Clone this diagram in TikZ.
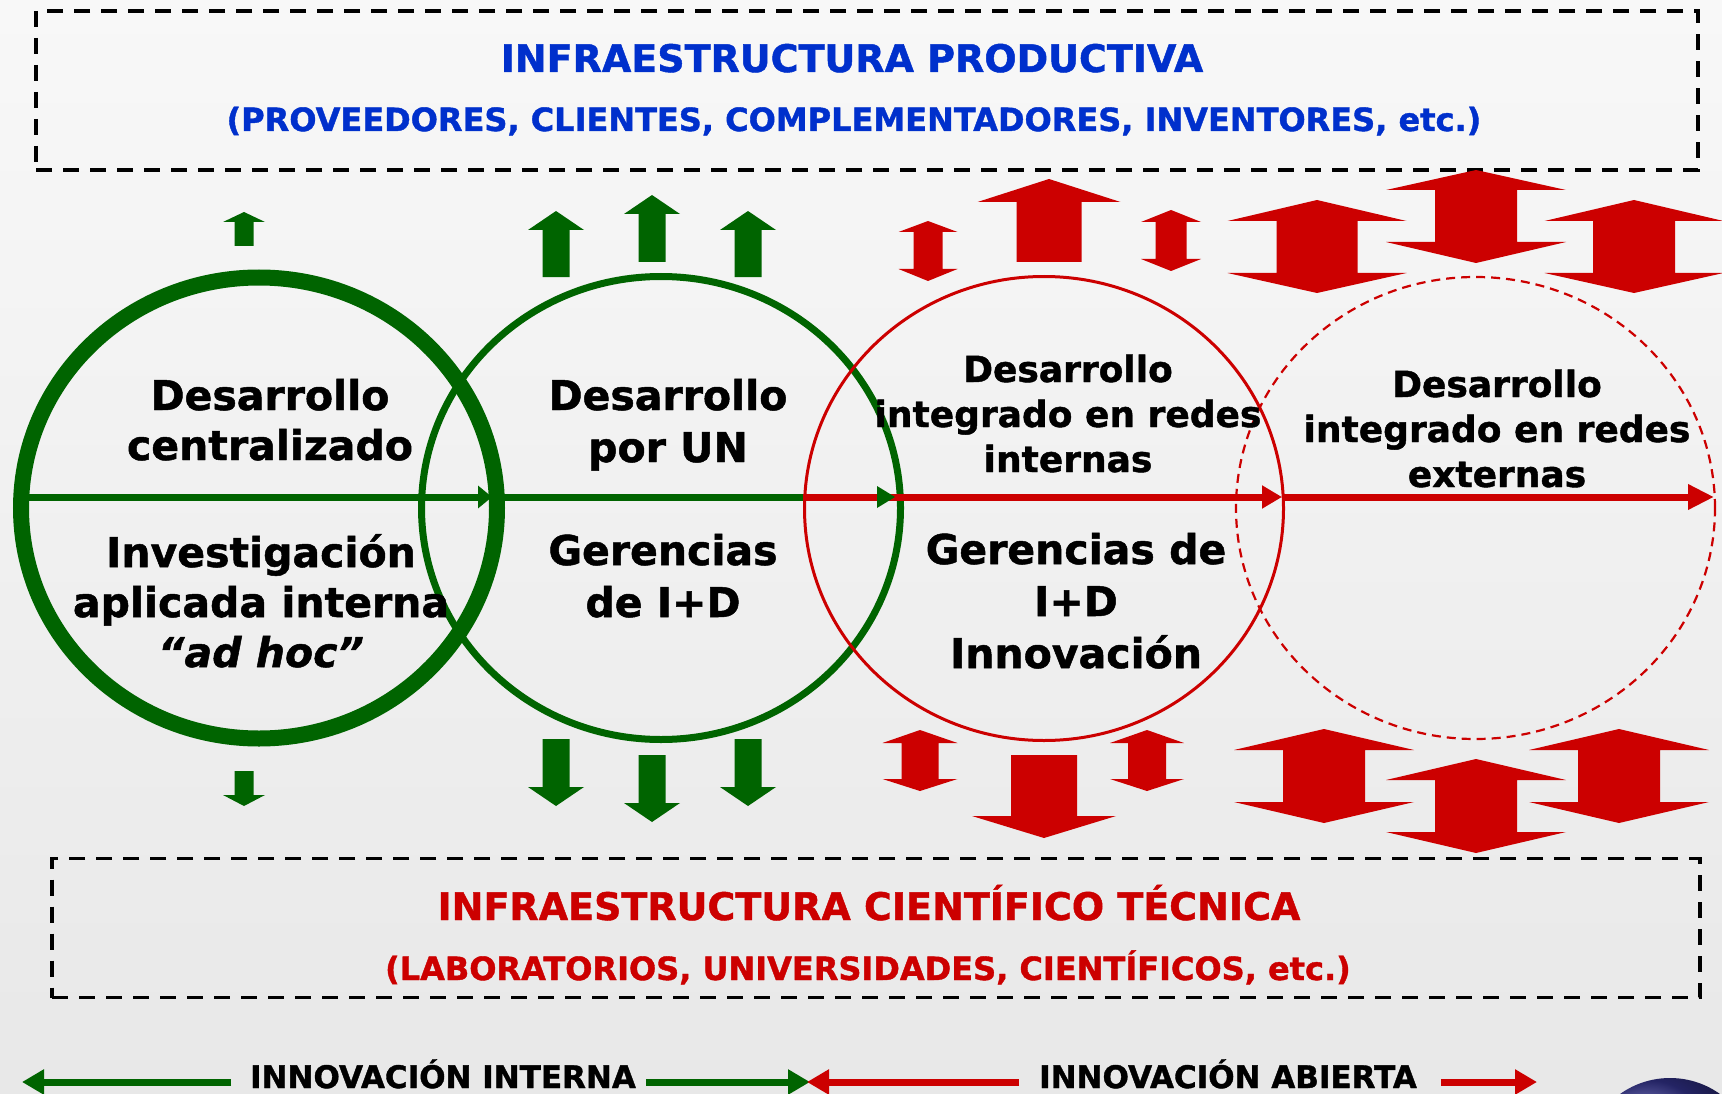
\documentclass[tikz,border=0pt]{standalone}
\usepackage{fontspec}
\setmainfont{DejaVu Sans}[BoldFont={DejaVu Sans Bold},ItalicFont={DejaVu Sans Oblique},BoldItalicFont={DejaVu Sans Bold Oblique},BoldFeatures={FakeBold=1.2},BoldItalicFeatures={FakeBold=1.2}]
\usetikzlibrary{arrows.meta,shapes.geometric}
\definecolor{dgreen}{RGB}{0,100,0}
\definecolor{dred}{RGB}{204,0,0}
\definecolor{dblue}{RGB}{0,48,204}
\definecolor{bgtop}{RGB}{248,248,248}
\definecolor{bgbot}{RGB}{232,232,232}
% #1 colour, #2 centre x, #3 tip y, #4 head base y, #5 tail y, #6 head half width, #7 shaft half width
\newcommand\BlkArrow[7]{\fill[#1] (#2,#3) -- ({#2+#6},#4) -- ({#2+#7},#4) -- ({#2+#7},#5) -- ({#2-#7},#5) -- ({#2-#7},#4) -- ({#2-#6},#4) -- cycle;}
% #1 colour, #2 centre x, #3 top tip, #4 top head base, #5 bottom head base, #6 bottom tip, #7 head half width, #8 shaft half width
\newcommand\DblArrow[8]{\fill[#1] (#2,#3) -- ({#2+#7},#4) -- ({#2+#8},#4) -- ({#2+#8},#5) -- ({#2+#7},#5) -- (#2,#6) -- ({#2-#7},#5) -- ({#2-#8},#5) -- ({#2-#8},#4) -- ({#2-#7},#4) -- cycle;}
\begin{document}
\begin{tikzpicture}[x=1pt,y=-1pt,
  dashbox/.style={draw=black, line width=3.5pt, dash pattern=on 16pt off 11pt, inner sep=0pt},
  ring/.style={ellipse, inner sep=0pt, outer sep=0pt},
  ctext/.style={anchor=base, align=center, inner sep=0pt, text=black, font=\bfseries\fontsize{41}{50}\selectfont},
  ctextw/.style={anchor=base, align=center, inner sep=0pt, text=black, font=\bfseries\fontsize{41}{52}\selectfont},
  ctexts/.style={anchor=base, align=center, inner sep=0pt, text=black, font=\bfseries\fontsize{36}{45}\selectfont},
  titletext/.style={anchor=base, inner sep=0pt, font=\bfseries\fontsize{38}{44}\selectfont},
  subtext/.style={anchor=base, inner sep=0pt, font=\bfseries\fontsize{32}{38}\selectfont},
  legtext/.style={anchor=base, inner sep=0pt, text=black, font=\bfseries\fontsize{31}{36}\selectfont},
  mline/.style={line width=7pt},
  larrow/.style={line width=7pt, -{Triangle[length=22pt,width=24pt]}}]
\useasboundingbox (0,0) rectangle (1722,1094);
\begin{scope}
\clip (0,0) rectangle (1722,1094);
% background
\fill[top color=bgtop, bottom color=bgbot] (0,0) rectangle (1722,1094);

% dashed frames
\node[dashbox, minimum width=1662pt, minimum height=159pt] (topbox) at (867,90.5) {};
\node[dashbox, minimum width=1648pt, minimum height=139pt] (botbox) at (876,928) {};
\node[titletext, text=dblue] (ttop) at (852,72) {INFRAESTRUCTURA PRODUCTIVA};
\node[subtext, text=dblue] (stop) at (854,131) {(PROVEEDORES, CLIENTES, COMPLEMENTADORES, INVENTORES, etc.)};
\node[titletext, text=dred] (tbot) at (869,920) {INFRAESTRUCTURA CIENTÍFICO TÉCNICA};
\node[subtext, text=dred] (sbot) at (868,980) {(LABORATORIOS, UNIVERSIDADES, CIENTÍFICOS, etc.)};

% green block arrows (top)
\BlkArrow{dgreen}{244}{212}{222}{246}{21}{9.5}
\BlkArrow{dgreen}{556}{211}{230}{277}{28}{13.5}
\BlkArrow{dgreen}{652}{195}{214}{262}{28}{13.5}
\BlkArrow{dgreen}{748}{211}{230}{277}{28}{13.5}
% green block arrows (bottom)
\BlkArrow{dgreen}{244}{806}{795}{771}{21}{9.5}
\BlkArrow{dgreen}{556}{806}{787}{739}{28}{13.5}
\BlkArrow{dgreen}{652}{822}{803}{755}{28}{13.5}
\BlkArrow{dgreen}{748}{806}{787}{739}{28}{13.5}
% red block arrows (top)
\DblArrow{dred}{928}{221}{232}{269}{281}{29.5}{14.5}
\BlkArrow{dred}{1049}{179}{202}{262}{71.5}{32.5}
\DblArrow{dred}{1171}{210}{222}{259}{271}{30}{15.5}
\DblArrow{dred}{1317}{200}{221}{273}{293}{89.5}{40.5}
\DblArrow{dred}{1476}{170}{190}{242}{263}{90}{41}
\DblArrow{dred}{1634}{200}{221}{273}{293}{89.5}{41}
% red block arrows (bottom)
\DblArrow{dred}{920}{730}{743}{779}{791}{37.5}{18.5}
\BlkArrow{dred}{1044}{838}{816}{755}{72}{33}
\DblArrow{dred}{1147}{730}{743}{779}{791}{37}{19}
\DblArrow{dred}{1324}{729}{750}{802}{823}{90}{41}
\DblArrow{dred}{1476}{759}{780}{832}{853}{90}{41}
\DblArrow{dred}{1619}{729}{750}{802}{823}{90}{41}

% rings
\node[ring, draw=dgreen, line width=16pt, minimum width=476pt, minimum height=461pt] (c1) at (259,508) {};
\node[ring, draw=dgreen, line width=7pt, minimum width=479pt, minimum height=463pt] (c2) at (661,508) {};
\node[ring, draw=dred, line width=3pt, minimum width=479pt, minimum height=464pt] (c3) at (1044,508.5) {};
\node[ring, draw=dred, line width=2.2pt, dash pattern=on 9pt off 6pt, minimum width=479pt, minimum height=462pt] (c4) at (1475.5,508) {};

% process line
\coordinate (p0) at (28,497);
\coordinate (p1) at (492,497);
\coordinate (p2) at (895,497);
\coordinate (p3s) at (803,497);
\coordinate (p3) at (1282,497);
\coordinate (p4) at (1714,497);
\draw[mline, dgreen, -{Triangle[length=14pt,width=22pt]}] (p0) -- (p1);
\draw[mline, dgreen] (p1) -- (p3s);
\draw[mline, dred, -{Triangle[length=20pt,width=22pt]}] (p3s) -- (p3);
\fill[dgreen] (p2) -- ++(-18,-11) -- ++(0,22) -- cycle;
\draw[mline, dred, -{Triangle[length=26pt,width=24pt]}] (p3) -- (p4);

% ring texts (anchor = baseline of the last line)
\node[ctext] (u1) at (270,460) {Desarrollo\\centralizado};
\node[ctext] (d1) at (261,667) {Investigación\\aplicada interna\\{\itshape “ad hoc”}};
\node[ctextw] (u2) at (668,462) {Desarrollo\\por UN};
\node[ctextw] (d2) at (663,617) {Gerencias\\de I+D};
\node[ctexts] (u3) at (1068,472) {Desarrollo\\integrado en redes\\internas};
\node[ctextw] (d3) at (1076,668) {Gerencias de\\I+D\\Innovación};
\node[ctexts] (u4) at (1497,487) {Desarrollo\\integrado en redes\\externas};

% legend
\node[legtext] (leg1) at (443,1088) {INNOVACIÓN INTERNA};
\node[legtext] (leg2) at (1228,1088) {INNOVACIÓN ABIERTA};
\coordinate (lgL) at (22,1082);
\coordinate (lgLt) at (231,1082);
\coordinate (lgRt) at (646,1082);
\coordinate (lgR) at (810,1082);
\coordinate (lrL) at (807,1082);
\coordinate (lrLt) at (1019,1082);
\coordinate (lrRt) at (1441,1082);
\coordinate (lrR) at (1537,1082);
\draw[larrow, dgreen] (lgLt) -- (lgL);
\draw[larrow, dgreen] (lgRt) -- (lgR);
\draw[larrow, dred] (lrLt) -- (lrL);
\draw[larrow, dred] (lrRt) -- (lrR);

% partial logo, bottom right
\shade[ball color=blue!45!black!80] (1670,1164) circle[radius=86pt];
\end{scope}
\end{tikzpicture}
\end{document}
